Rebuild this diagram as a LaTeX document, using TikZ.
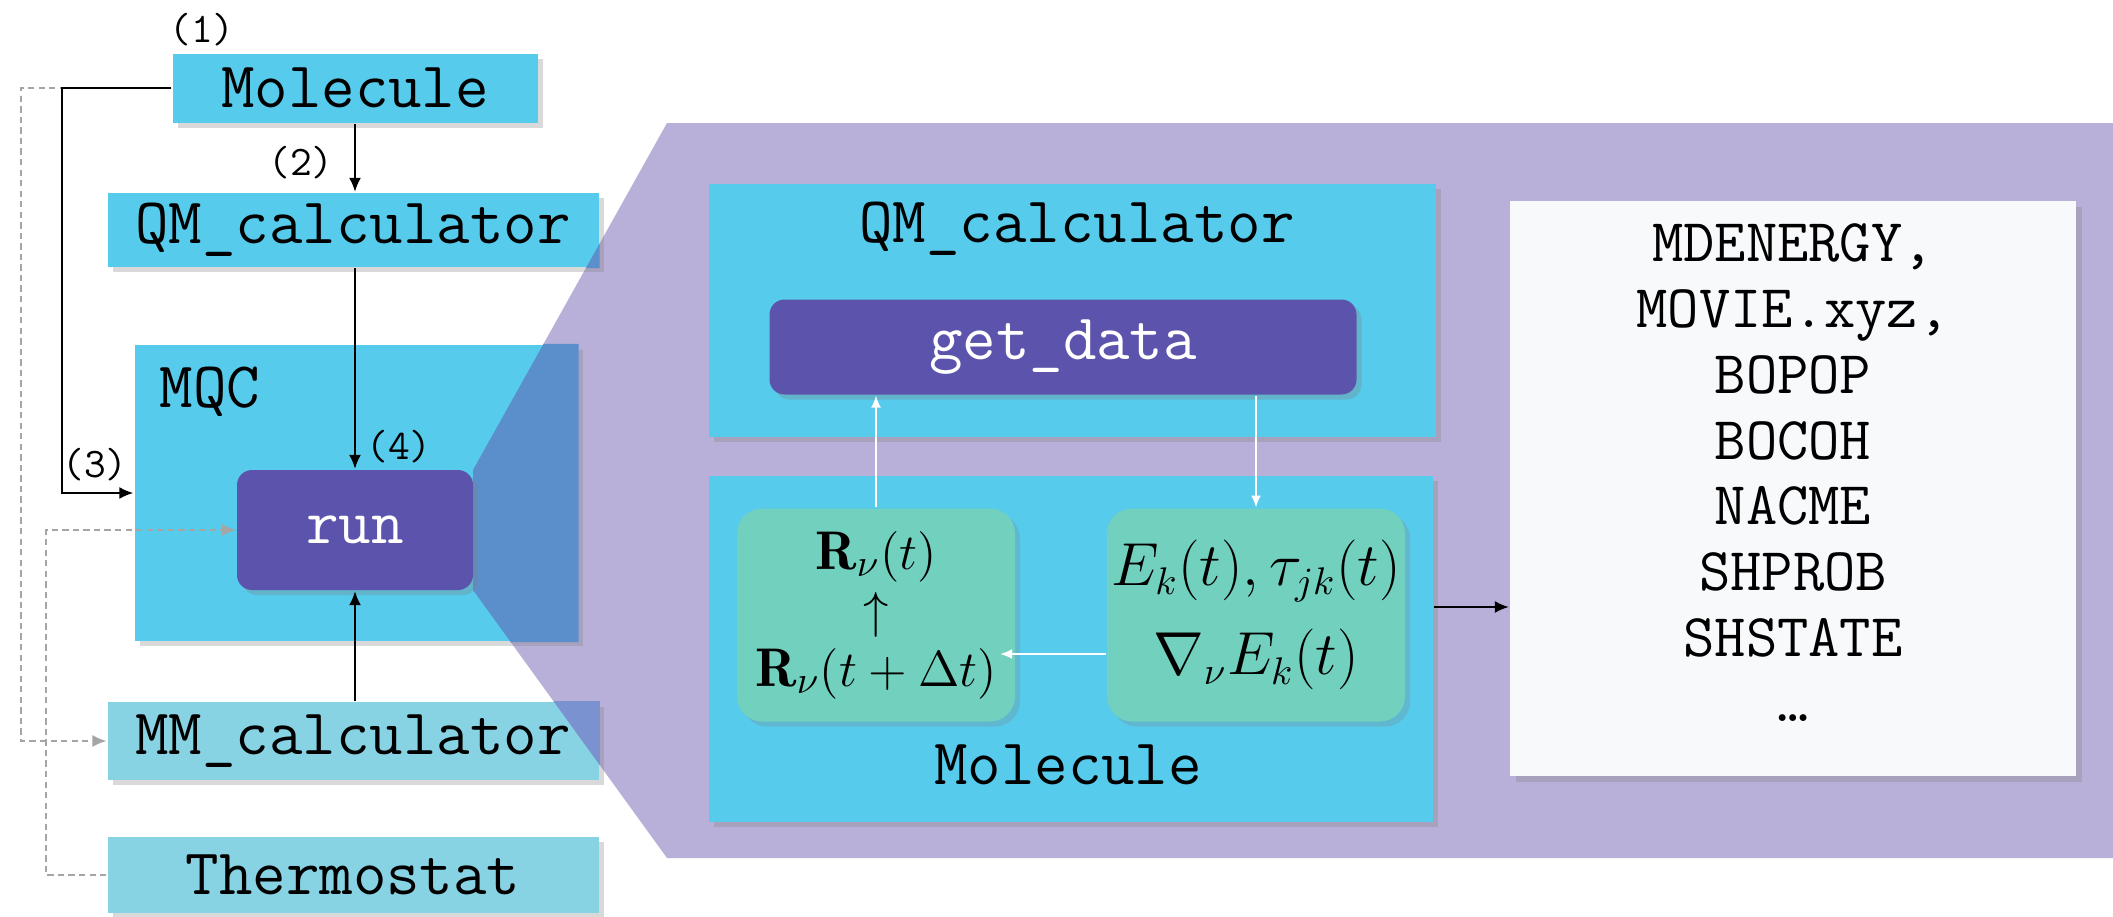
\documentclass[tikz,border=0pt]{standalone}
\usepackage{amsmath,amssymb}
\usepackage{fontspec}
\usetikzlibrary{arrows.meta,shadows}

\definecolor{skyc}{RGB}{86,203,236}
\definecolor{palec}{RGB}{135,211,228}
\definecolor{lilac}{RGB}{184,176,216}
\definecolor{indigo}{RGB}{92,84,172}
\definecolor{mint}{RGB}{114,208,190}
\definecolor{overc}{RGB}{91,143,204}
\definecolor{overm}{RGB}{122,146,208}
\definecolor{paper}{RGB}{248,249,251}
\definecolor{dashc}{RGB}{165,165,165}

\begin{document}
\begin{tikzpicture}[x=.1mm,y=-.1mm,line width=.6pt,
  tt/.style={font=\ttfamily\fontsize{18.5}{20}\selectfont},
  cbox/.style={tt,fill=skyc,inner sep=0pt,drop shadow={shadow xshift=.5mm,shadow yshift=-.5mm,opacity=.3}},
  pbox/.style={cbox,fill=palec},
  fbox/.style={tt,fill=indigo,text=white,inner sep=0pt,rounded corners=1.5mm,drop shadow={shadow xshift=.5mm,shadow yshift=-.5mm,opacity=.3}},
  gbox/.style={fill=mint,inner sep=0pt,align=center,rounded corners=2.5mm,font=\fontsize{15.5}{16.6}\selectfont,drop shadow={shadow xshift=.5mm,shadow yshift=-.5mm,opacity=.25}},
  obox/.style={fill=paper,inner sep=0pt,drop shadow={shadow xshift=.6mm,shadow yshift=-.6mm,opacity=.3}},
  otext/.style={align=center,inner sep=0pt,font=\ttfamily\fontsize{17.3}{18.7}\selectfont},
  num/.style={font=\ttfamily\fontsize{12}{13}\selectfont,inner sep=0pt},
  arr/.style={-{Latex[length=4pt,width=3.4pt]}},
  warr/.style={white,line width=.45pt,-{Latex[length=3.4pt,width=2.8pt]}},
  dline/.style={dashc,line width=.45pt,dash pattern=on 1.8pt off 1.2pt,-{Latex[length=4pt,width=3.4pt]}}]
  \useasboundingbox (0,0) rectangle (2113,917);
  % zoom area
  \fill[lilac] (667,123)--(2113,123)--(2113,858)--(667,858)--(473,590)--(473,470)--cycle;
  % left column
  \node[cbox,minimum width=36.5mm,minimum height=6.9mm] (mol) at (355,88) {Molecule};
  \node[cbox,minimum width=49.1mm,minimum height=7.4mm] (qml) at (353,230) {QM\_calculator};
  \node[cbox,minimum width=44.3mm,minimum height=29.6mm] (mqc) at (356,493) {};
  \node[pbox,minimum width=49.1mm,minimum height=7.8mm] (mm) at (353,741) {MM\_calculator};
  \node[pbox,minimum width=49.1mm,minimum height=7.6mm] (thermo) at (353,875) {Thermostat};
  \begin{scope}
    \clip (667,123)--(2113,123)--(2113,858)--(667,858)--(473,590)--(473,470)--cycle;
    \fill[overc] (qml.north west) rectangle (qml.south east) (mqc.north west) rectangle (mqc.south east);
    \fill[overm] (mm.north west) rectangle (mm.south east);
  \end{scope}
  \node[tt] (mqcl) at (210,392) {MQC};
  \node[fbox,font=\ttfamily\fontsize{18}{20}\selectfont,minimum width=23.6mm,minimum height=12mm] (run) at (355,530) {run};
  \node[num] (n1) at (202,30) {(1)};
  \node[num] (n2) at (301,163) {(2)};
  \node[num] (n3) at (95,465) {(3)};
  \node[num] (n4) at (399,447) {(4)};
  \coordinate (lo) at (21,0);
  \coordinate (li) at (46,0);
  \coordinate (ls) at (62,0);
  \draw[dline] (mol.west) -- (mol.west -| lo) |- (mm.west);
  \draw[dline] (thermo.west) -- (thermo.west -| li) |- (run.west);
  \draw[arr] (mol.west) -- (mol.west -| ls) |- (mqc.west);
  \draw[arr] (mol.south -| run.north) -- (qml.north -| run.north);
  \draw[arr] (qml.south -| run.north) -- (run.north);
  \draw[arr] (mm.north -| run.south) -- (run.south);
  % inside run
  \node[cbox,minimum width=72.7mm,minimum height=25.3mm] (qmp) at (1072,310) {};
  \node[tt] (qmpl) at (1077,229) {QM\_calculator};
  \node[fbox,minimum width=58.7mm,minimum height=9.5mm] (getdata) at (1063,347) {get\_data};
  \node[cbox,minimum width=72.4mm,minimum height=34.6mm] (molp) at (1071,649) {};
  \node[tt] (molpl) at (1068,765) {Molecule};
  \node[gbox,minimum width=27.8mm,minimum height=21.3mm] (rbox) at (876,615) {$\mathbf{R}_\nu(t)$\\$\uparrow$\\$\mathbf{R}_\nu(t+\Delta t)$};
  \node[gbox,font=\fontsize{16.3}{17}\selectfont,minimum width=29.8mm,minimum height=21.3mm] (ebox) at (1256,615) {$E_k(t),\tau_{jk}(t)$\\[6.8pt]$\nabla_\nu E_k(t)$};
  \node[obox,minimum width=56.6mm,minimum height=57.5mm] (out) at (1793,488) {};
  \node[otext,yshift=1.5mm] (outl) at (out.center) {MDENERGY,\\MOVIE.xyz,\\BOPOP\\BOCOH\\NACME\\SHPROB\\SHSTATE\\…};
  \draw[warr] (rbox.north) -- (rbox.north |- getdata.south);
  \draw[warr] (ebox.north |- getdata.south) -- (ebox.north);
  \draw[warr] ([yshift=-3.9mm]ebox.west) -- ([xshift=-1.6mm,yshift=-3.9mm]rbox.east);
  \draw[arr] ([yshift=4.2mm]molp.east) -- ([yshift=4.2mm]molp.east -| out.west);
\end{tikzpicture}
\end{document}
